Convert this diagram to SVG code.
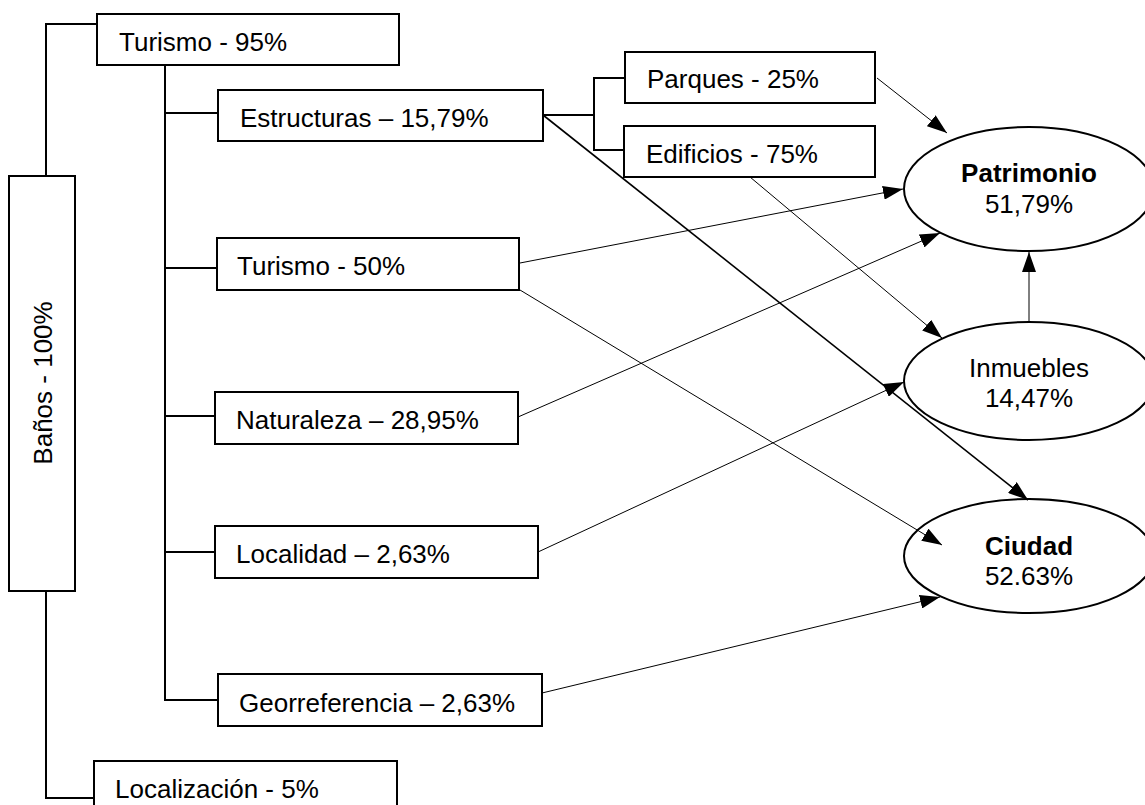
<svg xmlns="http://www.w3.org/2000/svg" width="1145" height="805" viewBox="0 0 1145 805">
<style>
.box{fill:#fff;stroke:#000;stroke-width:2}
.ell{fill:#fff;stroke:#000;stroke-width:2}
.t{font-family:"Liberation Sans",Arial,sans-serif;font-size:26px;fill:#000}
.b{font-weight:bold}
.tree{fill:none;stroke:#000;stroke-width:2}
.arr{fill:none;stroke:#000;stroke-width:1;marker-end:url(#ah)}
.arr2{fill:none;stroke:#000;stroke-width:1.6;marker-end:url(#ah)}
</style>
<defs>
<marker id="ah" markerUnits="userSpaceOnUse" markerWidth="20" markerHeight="14" refX="20" refY="7" orient="auto">
<path d="M0,0 L20,7 L0,14 z" fill="#000"/>
</marker>
</defs>
<rect width="1145" height="805" fill="#fff"/>
<g id="banos">
<rect class="box" x="9" y="176" width="66" height="415"/>
<text class="t" x="52" y="383" text-anchor="middle" transform="rotate(-90 52 383)">Baños - 100%</text>
</g>
<g id="turismo95">
<rect class="box" x="97" y="14" width="302" height="51"/>
<text class="t" x="119" y="51">Turismo - 95%</text>
</g>
<g id="localizacion">
<rect class="box" x="94" y="761" width="303" height="70"/>
<text class="t" x="115" y="798">Localización - 5%</text>
</g>
<g id="estructuras">
<rect class="box" x="218" y="90" width="325" height="51"/>
<text class="t" x="240" y="127">Estructuras – 15,79%</text>
</g>
<g id="parques">
<rect class="box" x="625" y="52" width="250" height="51"/>
<text class="t" x="647" y="88">Parques - 25%</text>
</g>
<g id="edificios">
<rect class="box" x="624" y="126" width="251" height="51"/>
<text class="t" x="646" y="163">Edificios - 75%</text>
</g>
<g id="turismo50">
<rect class="box" x="217" y="238" width="302" height="52"/>
<text class="t" x="237" y="275">Turismo - 50%</text>
</g>
<g id="naturaleza">
<rect class="box" x="215" y="392" width="303" height="52"/>
<text class="t" x="236" y="429">Naturaleza – 28,95%</text>
</g>
<g id="localidad">
<rect class="box" x="215" y="526" width="323" height="52"/>
<text class="t" x="236" y="563">Localidad – 2,63%</text>
</g>
<g id="georreferencia">
<rect class="box" x="218" y="674" width="324" height="52"/>
<text class="t" x="239" y="712">Georreferencia – 2,63%</text>
</g>
<g id="patrimonio">
<ellipse class="ell" cx="1029" cy="189" rx="125" ry="62"/>
<text class="t b" x="1029" y="182" text-anchor="middle">Patrimonio</text>
<text class="t" x="1029" y="213" text-anchor="middle">51,79%</text>
</g>
<g id="inmuebles">
<ellipse class="ell" cx="1029" cy="381" rx="125" ry="59"/>
<text class="t" x="1029" y="377" text-anchor="middle">Inmuebles</text>
<text class="t" x="1029" y="407" text-anchor="middle">14,47%</text>
</g>
<g id="ciudad">
<ellipse class="ell" cx="1029" cy="556" rx="125" ry="57"/>
<text class="t b" x="1029" y="555" text-anchor="middle">Ciudad</text>
<text class="t" x="1029" y="585" text-anchor="middle">52.63%</text>
</g>
<g id="connectors">
<polyline class="tree" points="97,24 46,24 46,176"/>
<polyline class="tree" points="46,591 46,798 94,798"/>
<line class="tree" x1="165" y1="65" x2="165" y2="700"/>
<line class="tree" x1="165" y1="113" x2="218" y2="113"/>
<line class="tree" x1="165" y1="268" x2="217" y2="268"/>
<line class="tree" x1="165" y1="416" x2="215" y2="416"/>
<line class="tree" x1="165" y1="552" x2="215" y2="552"/>
<line class="tree" x1="164" y1="700" x2="218" y2="700"/>
<line class="tree" x1="543" y1="115" x2="594" y2="115"/>
<polyline class="tree" points="625,78 594,78 594,150 624,150"/>
<line class="arr" x1="877" y1="78" x2="947" y2="133"/>
<line class="arr" x1="750" y1="177" x2="942" y2="338"/>
<line class="arr2" x1="543" y1="115" x2="1028" y2="500"/>
<line class="arr" x1="520" y1="263" x2="903" y2="189"/>
<line class="arr" x1="520" y1="290" x2="942" y2="545"/>
<line class="arr" x1="518" y1="417" x2="940" y2="233"/>
<line class="arr" x1="538" y1="552" x2="904" y2="382"/>
<line class="arr" x1="542" y1="693" x2="940" y2="597"/>
<line class="arr" x1="1029" y1="322" x2="1029" y2="252"/>
</g>
</svg>
